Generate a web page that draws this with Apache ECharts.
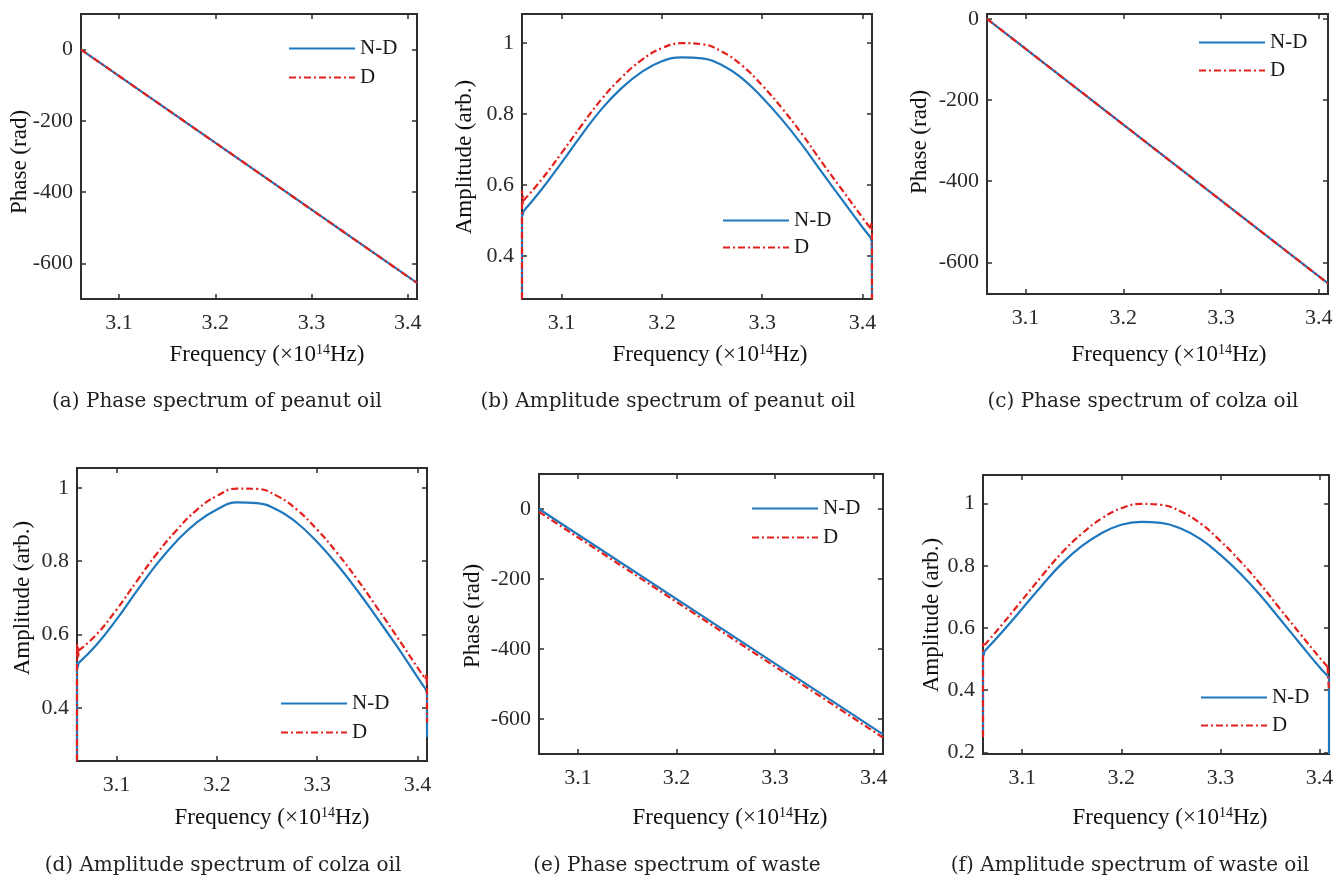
<!DOCTYPE html>
<html>
<head>
<meta charset="utf-8">
<script src="https://cdn.jsdelivr.net/npm/echarts@6/dist/echarts.min.js"></script>
<style>
html,body{margin:0;padding:0;background:#fff;}
#c{width:1344px;height:881px;}
</style>
</head>
<body>
<div id="c"></div>
<script>
// ---------------- data ----------------
const xTicks = [3.1, 3.2, 3.3, 3.4];
const phaseTicks = [-600, -400, -200, 0];
const ampTicks = [0.4, 0.6, 0.8, 1];
const ampTicksF = [0.2, 0.4, 0.6, 0.8, 1];

// phase spectra (straight lines)
const freqPhase = [3.0605, 3.235, 3.4095];
const phaseNdA = [0, -327, -655];
const phaseDA = [0, -327, -655];
const phaseNdC = [0, -326, -652];
const phaseDC = [0, -326, -652];
const phaseNdE = [0, -322, -644];
const phaseDE = [-8, -330, -653];

// amplitude spectra
const freqAmp = [3.062, 3.08, 3.10, 3.12, 3.14, 3.16, 3.18, 3.20, 3.22, 3.24, 3.26, 3.28, 3.30, 3.32, 3.34, 3.36, 3.38, 3.40, 3.408];
const ampNdB = [0.526, 0.587, 0.663, 0.741, 0.814, 0.873, 0.918, 0.948, 0.959, 0.956, 0.937, 0.900, 0.846, 0.783, 0.712, 0.634, 0.557, 0.481, 0.453];
const ampDB  = [0.556, 0.615, 0.690, 0.768, 0.842, 0.903, 0.952, 0.985, 0.999, 0.996, 0.975, 0.936, 0.880, 0.815, 0.742, 0.662, 0.585, 0.508, 0.478];
const ampNdD = [0.522, 0.572, 0.641, 0.718, 0.792, 0.855, 0.906, 0.941, 0.960, 0.958, 0.940, 0.904, 0.852, 0.790, 0.720, 0.644, 0.566, 0.484, 0.452];
const ampDD  = [0.556, 0.600, 0.668, 0.745, 0.820, 0.885, 0.940, 0.978, 0.998, 0.997, 0.978, 0.940, 0.886, 0.822, 0.750, 0.672, 0.592, 0.510, 0.478];
const ampNdF = [0.525, 0.588, 0.662, 0.737, 0.807, 0.863, 0.905, 0.932, 0.941, 0.938, 0.920, 0.886, 0.835, 0.775, 0.706, 0.629, 0.551, 0.474, 0.447];
const ampDF  = [0.545, 0.612, 0.690, 0.768, 0.842, 0.903, 0.952, 0.985, 0.999, 0.996, 0.975, 0.936, 0.880, 0.815, 0.742, 0.662, 0.583, 0.505, 0.476];

// record-end artefacts (vertical drops / spikes) as [freq, value]
const edgeNdBLeft  = [[3.0605, 0.279], [3.0605, 0.520], [3.0612, 0.514], [3.062, 0.526]];
const edgeDBLeft   = [[3.0605, 0.279], [3.0605, 0.585], [3.0611, 0.545], [3.0616, 0.570], [3.062, 0.556]];
const edgeNdBRight = [[3.408, 0.453], [3.4092, 0.440], [3.4095, 0.279]];
const edgeDBRight  = [[3.408, 0.478], [3.4090, 0.492], [3.4095, 0.470], [3.4095, 0.279]];
const edgeNdDLeft  = [[3.0605, 0.255], [3.0605, 0.525], [3.0612, 0.510], [3.062, 0.522]];
const edgeDDLeft   = [[3.0605, 0.255], [3.0605, 0.575], [3.0610, 0.535], [3.0614, 0.568], [3.0618, 0.540], [3.062, 0.556]];
const edgeNdDRight = [[3.408, 0.452], [3.4095, 0.440], [3.4095, 0.320]];
const edgeDDRight  = [[3.408, 0.478], [3.4088, 0.490], [3.4092, 0.468], [3.4095, 0.485], [3.4095, 0.360]];
const edgeNdFLeft  = [[3.0605, 0.250], [3.0605, 0.525], [3.0612, 0.512], [3.062, 0.525]];
const edgeDFLeft   = [[3.0605, 0.250], [3.0605, 0.550], [3.062, 0.545]];
const edgeNdFRight = [[3.408, 0.447], [3.4095, 0.440], [3.4095, 0.195]];
const edgeDFRight  = [[3.408, 0.476], [3.4095, 0.470], [3.4095, 0.400]];

const captions = [
  '(a) Phase spectrum of peanut oil',
  '(b) Amplitude spectrum of peanut oil',
  '(c) Phase spectrum of colza oil',
  '(d) Amplitude spectrum of colza oil',
  '(e) Phase spectrum of waste',
  '(f) Amplitude spectrum of waste oil'
];
const seriesNames = ['N-D', 'D'];

// ---------------- styling / layout ----------------
const BLUE = '#1f77bd';
const RED = '#e3211c';
const AX = '#2e2e2e';
const TXT = '#2a2a2a';
const SERIF = "'Liberation Serif', 'Times New Roman', serif";
const CAPFONT = "'DejaVu Serif', serif";
const X_MIN = 3.0605, X_MAX = 3.4095;

function pairs(xs, ys) { return xs.map((x, i) => [x, ys[i]]); }

const panels = [
  { grid: [81, 14, 336, 285], y: [-700, 100], yTicks: phaseTicks,
    nd: pairs(freqPhase, phaseNdA), d: pairs(freqPhase, phaseDA), smooth: false, edges: [],
    legend: [288, 38, 8], cap: [217, 402], xt: [267, 355], yTitle: 'Phase (rad)', yt: [20, 162] },
  { grid: [522, 14, 350, 285], y: [0.279, 1.081], yTicks: ampTicks,
    nd: pairs(freqAmp, ampNdB), d: pairs(freqAmp, ampDB), smooth: true,
    edges: [['N-D', edgeNdBLeft], ['N-D', edgeNdBRight], ['D', edgeDBLeft], ['D', edgeDBRight]],
    legend: [722, 210, 6], cap: [668, 402], xt: [710, 355], yTitle: 'Amplitude (arb.)', yt: [465, 157] },
  { grid: [987, 14, 341, 280], y: [-678, 12], yTicks: phaseTicks,
    nd: pairs(freqPhase, phaseNdC), d: pairs(freqPhase, phaseDC), smooth: false, edges: [],
    legend: [1198, 32, 7], cap: [1143, 402], xt: [1169, 355], yTitle: 'Phase (rad)', yt: [920, 142] },
  { grid: [77, 468, 350, 293], y: [0.255, 1.054], yTicks: ampTicks,
    nd: pairs(freqAmp, ampNdD), d: pairs(freqAmp, ampDD), smooth: true,
    edges: [['N-D', edgeNdDLeft], ['N-D', edgeNdDRight], ['D', edgeDDLeft], ['D', edgeDDRight]],
    legend: [280, 693, 8], cap: [223, 866], xt: [272, 818], yTitle: 'Amplitude (arb.)', yt: [23, 598] },
  { grid: [539, 474, 344, 280], y: [-700, 100], yTicks: phaseTicks,
    nd: pairs(freqPhase, phaseNdE), d: pairs(freqPhase, phaseDE), smooth: false, edges: [],
    legend: [751, 498, 8], cap: [677, 866], xt: [730, 818], yTitle: 'Phase (rad)', yt: [473, 616] },
  { grid: [983, 475, 346, 279], y: [0.195, 1.092], yTicks: ampTicksF,
    nd: pairs(freqAmp, ampNdF), d: pairs(freqAmp, ampDF), smooth: true,
    edges: [['N-D', edgeNdFLeft], ['N-D', edgeNdFRight], ['D', edgeDFLeft], ['D', edgeDFRight]],
    legend: [1200, 687, 7], cap: [1130, 866], xt: [1170, 818], yTitle: 'Amplitude (arb.)', yt: [932, 615] }
];

const styleFor = {
  'N-D': { color: BLUE, width: 2.2, type: 'solid' },
  'D': { color: RED, width: 2.2, type: [7, 3, 2, 3] }
};

const grids = [], xAxes = [], yAxes = [], series = [], legends = [], texts = [];

function tickCfg(vals) {
  return { show: true, inside: true, length: 5, customValues: vals, lineStyle: { color: AX, width: 1.5 } };
}

panels.forEach((p, i) => {
  grids.push({ left: p.grid[0], top: p.grid[1], width: p.grid[2], height: p.grid[3],
    show: true, borderColor: AX, borderWidth: 2, containLabel: false });
  ['bottom', 'top'].forEach((pos, k) => {
    xAxes.push({ type: 'value', gridIndex: i, position: pos, min: X_MIN, max: X_MAX,
      axisLine: { show: false, onZero: false }, splitLine: { show: false },
      axisTick: tickCfg(xTicks),
      axisLabel: { show: k === 0, customValues: xTicks, margin: 13, fontFamily: SERIF, fontSize: 22, color: TXT } });
  });
  ['left', 'right'].forEach((pos, k) => {
    yAxes.push({ type: 'value', gridIndex: i, position: pos, min: p.y[0], max: p.y[1],
      axisLine: { show: false, onZero: false }, splitLine: { show: false },
      axisTick: tickCfg(p.yTicks),
      axisLabel: { show: k === 0, customValues: p.yTicks, margin: 8, fontFamily: SERIF, fontSize: 22, color: TXT } });
  });
  const mk = (name, data, smooth, extra) => Object.assign({
    type: 'line', name, data, xAxisIndex: 2 * i, yAxisIndex: 2 * i,
    symbol: 'none', smooth: smooth ? 0.45 : false, animation: false,
    itemStyle: { color: styleFor[name].color },
    lineStyle: { color: styleFor[name].color, width: styleFor[name].width, type: styleFor[name].type }
  }, extra || {});
  series.push(mk('N-D', p.nd, p.smooth, { z: 2 }));
  p.edges.filter(e => e[0] === 'N-D').forEach(e => series.push(mk('N-D', e[1], false, { z: 2, clip: false })));
  series.push(mk('D', p.d, p.smooth, { z: 3 }));
  p.edges.filter(e => e[0] === 'D').forEach(e => series.push(mk('D', e[1], false, { z: 3, clip: false })));

  legends.push({ data: seriesNames, orient: 'vertical', left: p.legend[0], top: p.legend[1],
    itemWidth: 66, itemHeight: 14, itemGap: p.legend[2], padding: 0, selectedMode: false,
    itemStyle: { opacity: 0 },
    textStyle: { fontFamily: SERIF, fontSize: 21, color: '#1a1a1a' } });

  texts.push({ type: 'text', x: p.cap[0], y: p.cap[1],
    style: { text: captions[i], fontFamily: CAPFONT, fontSize: 20, fill: '#222', align: 'center', verticalAlign: 'middle' } });
  texts.push({ type: 'text', x: p.xt[0], y: p.xt[1],
    style: { text: 'Frequency (×10{sup|14}Hz)', fontFamily: SERIF, fontSize: 23, fill: '#111', align: 'center', verticalAlign: 'middle',
      rich: { sup: { fontFamily: SERIF, fontSize: 14, fill: '#111', verticalAlign: 'top' } } } });
  texts.push({ type: 'text', x: p.yt[0], y: p.yt[1], rotation: Math.PI / 2,
    style: { text: p.yTitle, fontFamily: SERIF, fontSize: 23, fill: '#111', align: 'center', verticalAlign: 'middle' } });
});

const chart = echarts.init(document.getElementById('c'), null, { renderer: 'canvas' });
chart.setOption({
  backgroundColor: '#ffffff',
  animation: false,
  grid: grids,
  xAxis: xAxes,
  yAxis: yAxes,
  legend: legends,
  series: series,
  graphic: { elements: texts }
});
</script>
</body>
</html>
